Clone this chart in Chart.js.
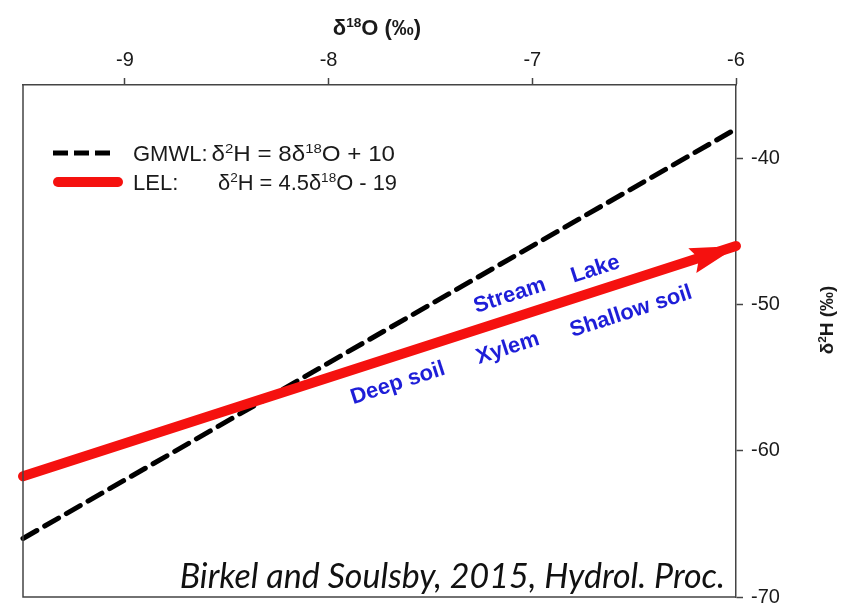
<!DOCTYPE html>
<html>
<head>
<meta charset="utf-8">
<script src="https://cdn.jsdelivr.net/npm/chart.js@4"></script>
<style>
  html, body { margin: 0; padding: 0; background: #fff; }
  #wrap { width: 846px; height: 608px; }
</style>
</head>
<body>
<div id="wrap"><canvas id="myChart" width="846" height="608"></canvas></div>
<script>
// axis ranges and tick values
const xRange = [-9.5, -6];
const yRange = [-70, -35];
const xTicks = [-9, -8, -7, -6];
const yTicks = [-70, -60, -50, -40];

// GMWL: d2H = 8 d18O + 10
const gmwlX = [-9.5, -6];
const gmwlY = [-66, -38];

// LEL: d2H = 4.5 d18O - 19
const lelX = [-9.5, -6];
const lelY = [-61.75, -46];

const SANS = '"Liberation Sans", Arial, sans-serif';
const RED = '#f5110f';
const BLUE = '#1e1ed8';

// water pool names placed along the LEL
const poolLabels = [
    { text: "Deep soil", x: -7.66, y: -55.4 },
    { text: "Xylem", x: -7.12, y: -53.0 },
    { text: "Shallow soil", x: -6.515, y: -50.5 },
    { text: "Stream", x: -7.11, y: -49.4 },
    { text: "Lake", x: -6.69, y: -47.6 }
];

function toPoints(xs, ys) {
    return xs.map((x, i) => ({ x: x, y: ys[i] }));
}

// text with superscripts, parts = [[text, isSup], ...]
function richWidth(ctx, parts, size, weight) {
    let w = 0;
    for (const [t, sup] of parts) {
        ctx.font = weight + " " + (sup ? size * 0.62 : size) + "px " + SANS;
        w += ctx.measureText(t).width;
    }
    return w;
}

function drawRich(ctx, parts, x, y, size, weight) {
    let cx = x;
    ctx.textAlign = "left";
    ctx.textBaseline = "alphabetic";
    for (const [t, sup] of parts) {
        ctx.font = weight + " " + (sup ? size * 0.62 : size) + "px " + SANS;
        ctx.fillText(t, cx, sup ? y - size * 0.36 : y);
        cx += ctx.measureText(t).width;
    }
    return cx;
}

// same, stretched a little to a given width
function drawRichFit(ctx, parts, x, y, size, weight, width) {
    const w = richWidth(ctx, parts, size, weight);
    ctx.save();
    ctx.translate(x, y);
    ctx.scale(width / w, 1);
    drawRich(ctx, parts, 0, 0, size, weight);
    ctx.restore();
}

const decorations = {
    id: "decorations",
    afterDatasetsDraw(chart) {
        const ctx = chart.ctx;
        const meta = chart.getDatasetMeta(0);
        const pts = meta.data;
        const a = pts[pts.length - 2], b = pts[pts.length - 1];
        const ang = Math.atan2(b.y - a.y, b.x - a.x);

        // arrow head at the end of the LEL
        ctx.save();
        ctx.translate(b.x + 2, b.y);
        ctx.rotate(ang);
        ctx.fillStyle = RED;
        ctx.beginPath();
        ctx.moveTo(0, 0);
        ctx.lineTo(-48, -13);
        ctx.lineTo(-41, 0);
        ctx.lineTo(-48, 13);
        ctx.closePath();
        ctx.fill();
        ctx.restore();

        // pool labels, rotated like the line
        const xs = chart.scales.x, ys = chart.scales.y;
        ctx.save();
        ctx.fillStyle = BLUE;
        ctx.font = "bold 22px " + SANS;
        ctx.textAlign = "center";
        ctx.textBaseline = "middle";
        for (const l of poolLabels) {
            ctx.save();
            ctx.translate(xs.getPixelForValue(l.x), ys.getPixelForValue(l.y));
            ctx.rotate(ang);
            ctx.fillText(l.text, 0, 0);
            ctx.restore();
        }
        ctx.restore();
    },
    afterDraw(chart) {
        const ctx = chart.ctx;
        const area = chart.chartArea;

        // left and bottom sides of the frame
        ctx.save();
        ctx.strokeStyle = "#444";
        ctx.lineWidth = 1.5;
        ctx.beginPath();
        ctx.moveTo(area.left, area.top);
        ctx.lineTo(area.left, area.bottom);
        ctx.lineTo(area.right, area.bottom);
        ctx.stroke();
        ctx.restore();

        ctx.save();
        ctx.fillStyle = "#1a1a1a";

        // axis titles
        const xTitle = [["δ", false], ["18", true], ["O (‰)", false]];
        const wx = richWidth(ctx, xTitle, 22, "bold");
        drawRich(ctx, xTitle, 377 - wx / 2, 35, 22, "bold");

        const yTitle = [["δ", false], ["2", true], ["H (‰)", false]];
        const wy = richWidth(ctx, yTitle, 19, "bold");
        ctx.save();
        ctx.translate(833, 320);
        ctx.rotate(-Math.PI / 2);
        drawRich(ctx, yTitle, -wy / 2, 0, 19, "bold");
        ctx.restore();

        // legend
        ctx.lineWidth = 5;
        ctx.strokeStyle = "#000";
        ctx.setLineDash([15, 6]);
        ctx.beginPath();
        ctx.moveTo(53, 153);
        ctx.lineTo(112, 153);
        ctx.stroke();
        ctx.setLineDash([]);
        ctx.lineWidth = 10;
        ctx.lineCap = "round";
        ctx.strokeStyle = RED;
        ctx.beginPath();
        ctx.moveTo(58, 182);
        ctx.lineTo(118, 182);
        ctx.stroke();

        ctx.fillStyle = "#1a1a1a";
        const gmwlEnd = drawRich(ctx, [["GMWL:", false]], 133, 161, 22, "normal");
        drawRichFit(ctx, [["δ", false], ["2", true], ["H = 8", false], ["δ", false], ["18", true], ["O + 10", false]], gmwlEnd + 4, 161, 22, "normal", 395 - gmwlEnd - 4);
        drawRich(ctx, [["LEL:", false]], 133, 190, 22, "normal");
        drawRichFit(ctx, [["δ", false], ["2", true], ["H = 4.5", false], ["δ", false], ["18", true], ["O - 19", false]], 218, 190, 22, "normal", 179);

        // source note
        ctx.fillStyle = "#111";
        ctx.font = "italic 34px Lato, sans-serif";
        ctx.textAlign = "right";
        ctx.textBaseline = "alphabetic";
        ctx.fillText("Birkel and Soulsby, 2015, Hydrol. Proc.", 725, 588);
        ctx.restore();
    }
};

const tickFont = { family: SANS, size: 20 };

new Chart(document.getElementById("myChart").getContext("2d"), {
    type: "line",
    data: {
        datasets: [
            {
                label: "LEL",
                data: toPoints(lelX, lelY),
                borderColor: RED,
                borderWidth: 10,
                borderCapStyle: "round",
                pointRadius: 0,
                clip: 10
            },
            {
                label: "GMWL",
                data: toPoints(gmwlX, gmwlY),
                borderColor: "#000",
                borderWidth: 5,
                borderDash: [16, 9],
                borderCapStyle: "round",
                pointRadius: 0,
                clip: 10
            }
        ]
    },
    options: {
        responsive: false,
        animation: false,
        layout: { padding: { left: 23, bottom: 11, top: 0, right: 0 } },
        plugins: {
            legend: { display: false },
            tooltip: { enabled: false }
        },
        scales: {
            x: {
                type: "linear",
                position: "top",
                min: xRange[0],
                max: xRange[1],
                afterBuildTicks: s => { s.ticks = xTicks.map(v => ({ value: v })); },
                afterFit: s => { s.height = 85; s.paddingLeft = 0; s.paddingRight = 0; },
                grid: { drawOnChartArea: false, tickLength: 7, tickColor: "#444", tickWidth: 1.5 },
                border: { color: "#444", width: 1.5 },
                ticks: { color: "#1a1a1a", font: tickFont, padding: 6, maxRotation: 0 }
            },
            y: {
                type: "linear",
                position: "right",
                min: yRange[0],
                max: yRange[1],
                afterBuildTicks: s => { s.ticks = yTicks.map(v => ({ value: v })); },
                afterFit: s => { s.width = 110; s.paddingTop = 0; s.paddingBottom = 0; },
                grid: { drawOnChartArea: false, tickLength: 7, tickColor: "#444", tickWidth: 1.5 },
                border: { color: "#444", width: 1.5 },
                ticks: { color: "#1a1a1a", font: tickFont, padding: 8 }
            }
        }
    },
    plugins: [decorations]
});
</script>
</body>
</html>
